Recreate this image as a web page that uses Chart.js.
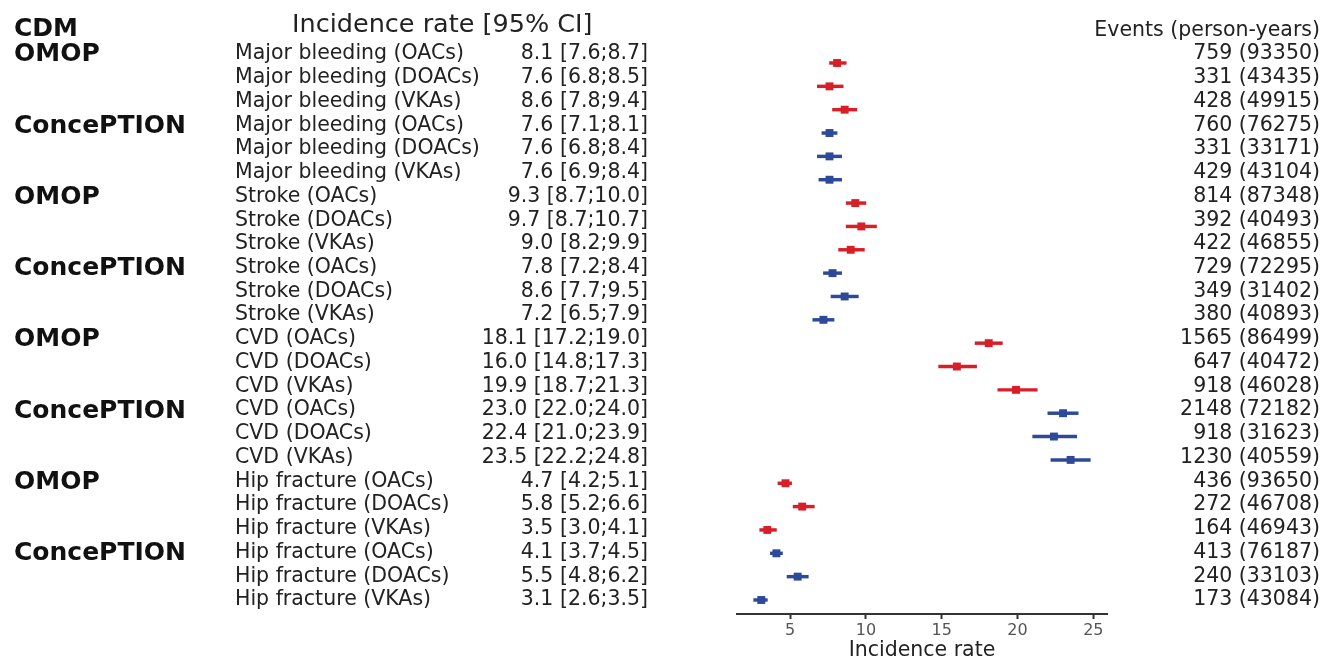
<!DOCTYPE html>
<html>
<head>
<meta charset="utf-8">
<title>Incidence rates forest plot</title>
<script src="https://cdn.jsdelivr.net/npm/chart.js@4/dist/chart.umd.min.js"></script>
<style>
  html, body { margin: 0; padding: 0; background: #fff; overflow: hidden; }
  #chart { display: block; }
</style>
</head>
<body>
<canvas id="chart" width="1323" height="680"></canvas>
<script>
// data
const outcomes = ['Major bleeding', 'Stroke', 'CVD', 'Hip fracture'];
const cdms = ['OMOP', 'ConcePTION'];
const drugs = ['OACs', 'DOACs', 'VKAs'];

// rows: outcome -> cdm -> drug
const rate  = [8.1, 7.6, 8.6,  7.6, 7.6, 7.6,  9.3, 9.7, 9.0,  7.8, 8.6, 7.2,
               18.1, 16.0, 19.9,  23.0, 22.4, 23.5,  4.7, 5.8, 3.5,  4.1, 5.5, 3.1];
const lower = [7.6, 6.8, 7.8,  7.1, 6.8, 6.9,  8.7, 8.7, 8.2,  7.2, 7.7, 6.5,
               17.2, 14.8, 18.7,  22.0, 21.0, 22.2,  4.2, 5.2, 3.0,  3.7, 4.8, 2.6];
const upper = [8.7, 8.5, 9.4,  8.1, 8.4, 8.4,  10.0, 10.7, 9.9,  8.4, 9.5, 7.9,
               19.0, 17.3, 21.3,  24.0, 23.9, 24.8,  5.1, 6.6, 4.1,  4.5, 6.2, 3.5];
const events = [759, 331, 428,  760, 331, 429,  814, 392, 422,  729, 349, 380,
                1565, 647, 918,  2148, 918, 1230,  436, 272, 164,  413, 240, 173];
const personYears = [93350, 43435, 49915,  76275, 33171, 43104,  87348, 40493, 46855,  72295, 31402, 40893,
                     86499, 40472, 46028,  72182, 31623, 40559,  93650, 46708, 46943,  76187, 33103, 43084];
const xTicks = [5, 10, 15, 20, 25];

const cdmColors = ['#d81f27', '#2d4a98'];
const FONT = '"DejaVu Sans", sans-serif';

// build the row table
const rows = [];
outcomes.forEach((o, oi) => {
    cdms.forEach((c, ci) => {
        drugs.forEach((d, di) => {
            const r = rows.length;
            rows.push({ row: r, cdm: ci, first: di === 0, label: `${o} (${d})` });
        });
    });
});

const datasets = [];
cdms.forEach((c, ci) => {
    const mine = rows.filter(r => r.cdm === ci);
    datasets.push({
        type: 'scatter',
        label: c,
        data: mine.map(r => ({ x: rate[r.row], y: r.row })),
        pointStyle: 'rect',
        pointRadius: 5.6,
        pointHoverRadius: 5.6,
        backgroundColor: cdmColors[ci],
        borderWidth: 0,
        xAxisID: 'x',
        yAxisID: 'y',
        order: 0
    });
    datasets.push({
        type: 'bar',
        label: c + ' CI',
        data: mine.map(r => ({ x: [lower[r.row], upper[r.row]], y: r.row })),
        backgroundColor: cdmColors[ci],
        borderWidth: 0,
        barThickness: 2.8,
        grouped: false,
        xAxisID: 'x',
        yAxisID: 'y',
        order: 1
    });
});

// table text next to the plot
const textPlugin = {
    id: 'forestText',
    afterDraw(chart) {
        const ctx = chart.ctx;
        const ty = chart.scales.yText;
        ctx.save();
        ctx.textBaseline = 'middle';

        const hy = ty.getPixelForValue(-1);
        ctx.fillStyle = '#111';
        ctx.font = 'bold 25px ' + FONT;
        ctx.textAlign = 'left';
        ctx.fillText('CDM', 14, hy);
        ctx.fillStyle = '#222';
        ctx.font = '25.5px ' + FONT;
        ctx.fillText('Incidence rate [95% CI]', 292, hy - 4);
        ctx.font = '20.5px ' + FONT;
        ctx.textAlign = 'right';
        ctx.fillText('Events (person-years)', 1320, hy + 1);

        rows.forEach(r => {
            const y = ty.getPixelForValue(r.row);
            if (r.first) {
                ctx.fillStyle = '#111';
                ctx.font = 'bold 25px ' + FONT;
                ctx.textAlign = 'left';
                ctx.fillText(cdms[r.cdm], 14, y + 2);
            }
            ctx.fillStyle = '#222';
            ctx.font = '20.5px ' + FONT;
            ctx.textAlign = 'left';
            ctx.fillText(r.label, 235, y + 1);
            ctx.textAlign = 'right';
            const ci = `${rate[r.row].toFixed(1)} [${lower[r.row].toFixed(1)};${upper[r.row].toFixed(1)}]`;
            ctx.fillText(ci, 648, y + 1);
            ctx.fillText(`${events[r.row]} (${personYears[r.row]})`, 1320, y + 1);
        });
        ctx.restore();
    }
};

new Chart(document.getElementById('chart'), {
    type: 'bar',
    data: { datasets: datasets },
    plugins: [textPlugin],
    options: {
        indexAxis: 'y',
        responsive: false,
        animation: false,
        events: [],
        layout: { padding: { left: 737, right: 216, top: 40, bottom: 0 } },
        plugins: { legend: { display: false }, tooltip: { enabled: false } },
        scales: {
            x: {
                type: 'linear',
                position: 'bottom',
                min: 1.5,
                max: 25.9,
                afterBuildTicks: axis => { axis.ticks = xTicks.map(v => ({ value: v })); },
                afterFit: axis => { axis.height = 66; },
                border: { display: true, color: '#333', width: 2 },
                grid: { drawOnChartArea: false, tickLength: 5, tickWidth: 2, tickColor: '#333' },
                ticks: { font: { family: FONT, size: 16 }, color: '#555', padding: 2 },
                title: {
                    display: true,
                    text: 'Incidence rate',
                    font: { family: FONT, size: 20.5 },
                    color: '#222',
                    padding: { top: 0, bottom: 17 }
                }
            },
            y: { type: 'linear', display: false, reverse: true, offset: false, min: -0.985, max: 23.6 },
            yText: { type: 'linear', axis: 'y', display: false, reverse: true, offset: false, min: -0.5476, max: 23.632 }
        }
    }
});
</script>
</body>
</html>
